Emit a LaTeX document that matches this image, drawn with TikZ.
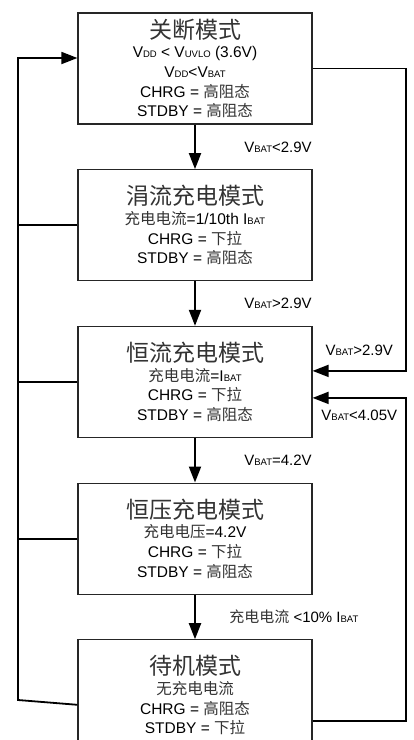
\documentclass[tikz,border=0pt]{standalone}
\usepackage{fontspec}
\setmainfont{Liberation Sans}
\newfontfamily\cjk{Noto Sans CJK SC}
\usetikzlibrary{arrows.meta,positioning}
\newcommand{\lowcap}[1]{{\fontsize{9.5}{9.5}\selectfont #1}}
\newcommand{\modename}[1]{{\fontsize{23}{19.5}\selectfont\cjk\color{black!80}#1}}
\newcommand{\zh}[1]{{\cjk\color{black!80}#1}}
\tikzset{
  modebox/.style={draw=black!85,line width=1.2pt,minimum width=234pt,minimum height=111pt,
    align=center,inner sep=0pt,font=\fontsize{15.5}{19.6}\selectfont},
  tip/.style={-{Triangle[length=16pt,width=12pt]}},
  flow/.style={line width=2pt,tip},
  wire/.style={line width=1.8pt},
  cond/.style={font=\fontsize{15}{17}\selectfont}
}
\begin{document}
\begin{tikzpicture}[x=1pt,y=1pt]
  \useasboundingbox (0,0) rectangle (414,-740);
  % the five modes
  \node[modebox] (off) at (195,-68.5) {\modename{关断模式}\\
    V\lowcap{DD} < V\lowcap{UVLO} (3.6V)\\
    V\lowcap{DD}<V\lowcap{BAT}\\
    CHRG = \zh{高阻态}\\
    STDBY = \zh{高阻态}};
  \node[modebox,below=44.5pt of off] (trickle) {\modename{涓流充电模式}\\
    \zh{充电电流}=1/10th I\lowcap{BAT}\\
    CHRG = \zh{下拉}\\
    STDBY = \zh{高阻态}};
  \node[modebox,below=44.5pt of trickle] (cc) {\modename{恒流充电模式}\\
    \zh{充电电流}=I\lowcap{BAT}\\
    CHRG = \zh{下拉}\\
    STDBY = \zh{高阻态}};
  \node[modebox,below=44.5pt of cc] (cv) {\modename{恒压充电模式}\\
    \zh{充电电压}=4.2V\\
    CHRG = \zh{下拉}\\
    STDBY = \zh{高阻态}};
  \node[modebox,below=44.5pt of cv] (standby) {\modename{待机模式}\\
    \zh{无充电电流}\\
    CHRG = \zh{高阻态}\\
    STDBY = \zh{下拉}};
  % down the chain
  \draw[flow] (off) -- (trickle) node[midway,right=45pt,cond] {V\lowcap{BAT}<2.9V};
  \draw[flow] (trickle) -- (cc) node[midway,right=45pt,cond] {V\lowcap{BAT}>2.9V};
  \draw[flow] (cc) -- (cv) node[midway,right=45pt,cond] {V\lowcap{BAT}=4.2V};
  \draw[flow] (cv) -- (standby) node[midway,right=30pt,cond] {\zh{充电电流} <10\% I\lowcap{BAT}};
  % left return to shutdown
  \coordinate (ltop) at (18,-58);
  \coordinate (lbot) at (18,-700);
  \draw[wire,tip] ([yshift=-9.5pt]standby.west) -- (lbot) -- (ltop) -- (off.west |- ltop);
  \draw[wire] (trickle.west) -- (trickle.west -| ltop);
  \draw[wire] (cc.west) -- (cc.west -| ltop);
  \draw[wire] (cv.west) -- (cv.west -| ltop);
  % right returns to constant current
  \coordinate (rx) at (406,0);
  \draw[wire,tip] (off.east) -- (off.east -| rx) |- ([yshift=11pt]cc.east)
    node[pos=0.75,above=11pt,cond] {V\lowcap{BAT}>2.9V};
  \draw[wire,tip] ([yshift=-25.5pt]standby.east) -- ([yshift=-25.5pt]standby.east -| rx)
    |- ([yshift=-16pt]cc.east)
    node[pos=0.75,below=8pt,cond] {V\lowcap{BAT}<4.05V};
\end{tikzpicture}
\end{document}
